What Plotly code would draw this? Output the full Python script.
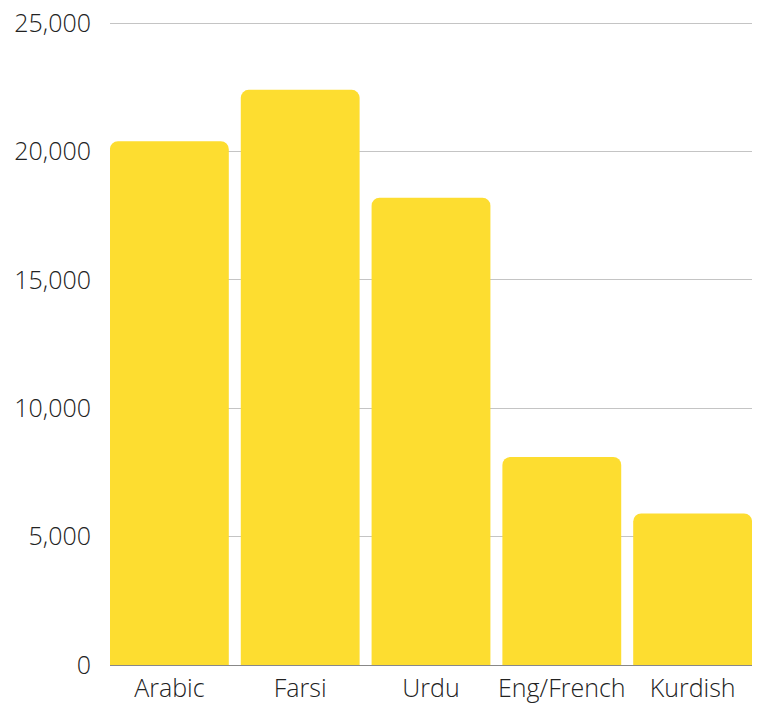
import plotly.graph_objects as go

languages = ["Arabic", "Farsi", "Urdu", "Eng/French", "Kurdish"]
speakers = [20400, 22400, 18200, 8100, 5900]
y_ticks = [0, 5000, 10000, 15000, 20000, 25000]
y_tick_labels = ["0", "5,000", "10,000", "15,000", "20,000", "25,000"]

BAR_COLOR = "#FDDD30"
FONT = dict(family="Open Sans", size=25, color="#222222", weight=300)

fig = go.Figure(
    go.Bar(
        x=languages,
        y=speakers,
        marker=dict(color=BAR_COLOR, cornerradius=8, line=dict(width=0)),
        hoverinfo="x+y",
    )
)

fig.update_layout(
    width=760,
    height=706,
    margin=dict(l=110, r=8, t=22, b=41),
    paper_bgcolor="white",
    plot_bgcolor="white",
    bargap=0.0916,
    showlegend=False,
    font=FONT,
)

fig.update_xaxes(
    range=[-0.454, 4.454],
    automargin=False,
    showgrid=False,
    showline=True,
    linecolor="#888888",
    linewidth=1,
    ticks="",
    ticklabelstandoff=1,
    tickfont=FONT,
    fixedrange=True,
)

fig.update_yaxes(
    range=[0, 25040],
    automargin=False,
    tickvals=y_ticks,
    ticktext=y_tick_labels,
    showgrid=True,
    gridcolor="#c4c4c4",
    gridwidth=1,
    zeroline=False,
    showline=False,
    ticks="",
    ticklabelstandoff=18,
    tickfont=FONT,
    fixedrange=True,
)

fig.write_html("out.html")
